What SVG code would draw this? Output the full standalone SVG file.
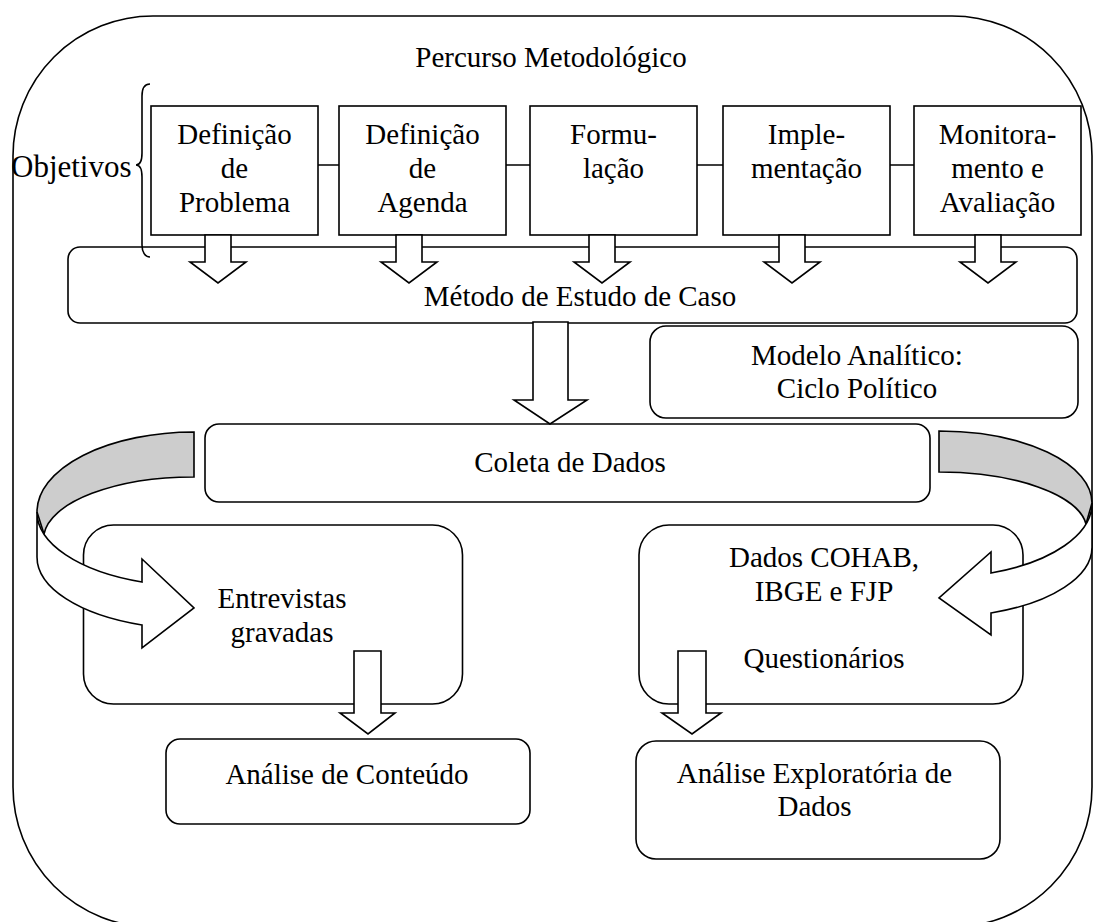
<svg xmlns="http://www.w3.org/2000/svg" width="1093" height="922" viewBox="0 0 1093 922">
<style>
.b{fill:#fff;stroke:#000;stroke-width:1.6}
.ln{fill:none;stroke:#000;stroke-width:1.6}
.g{fill:#cdcdcd;stroke:#000;stroke-width:1.6}
text{font-family:"Liberation Serif","Times New Roman",serif;font-size:29px;fill:#000;text-anchor:middle}
</style>
<rect width="1093" height="922" fill="#fff"/>
<g id="frame">
<rect class="ln" x="13" y="16" width="1079" height="911" rx="140" ry="140"/>
<text x="551" y="67">Percurso Metodológico</text>
</g>
<g id="connectors">
<path class="ln" d="M318,165 H339 M506,165 H530 M697,165 H723 M890,165 H914"/>
</g>
<g id="stage1"><rect class="b" x="151" y="106" width="167" height="129"/>
<text x="234.5" y="144">Definição</text><text x="234.5" y="178">de</text><text x="234.5" y="212">Problema</text></g>
<g id="stage2"><rect class="b" x="339" y="106" width="167" height="129"/>
<text x="422.5" y="144">Definição</text><text x="422.5" y="178">de</text><text x="422.5" y="212">Agenda</text></g>
<g id="stage3"><rect class="b" x="530" y="106" width="167" height="129"/>
<text x="613.5" y="144">Formu-</text><text x="613.5" y="178">lação</text></g>
<g id="stage4"><rect class="b" x="723" y="106" width="167" height="129"/>
<text x="806.5" y="144">Imple-</text><text x="806.5" y="178">mentação</text></g>
<g id="stage5"><rect class="b" x="914" y="106" width="167" height="129"/>
<text x="997.5" y="144">Monitora-</text><text x="997.5" y="178">mento e</text><text x="997.5" y="212">Avaliação</text></g>
<g id="metodo"><rect class="b" x="68" y="247" width="1009" height="76" rx="12"/>
<text x="580" y="306">Método de Estudo de Caso</text></g>
<g id="objetivos">
<path class="ln" d="M150,84 C145,84 142,88 142,96 L142,153 C142,160 140,165 136,165 C140,165 142,170 142,177 L142,245 C142,252 145,257 150,257"/>
<text x="11" y="177" style="text-anchor:start;font-size:31px">Objetivos</text>
</g>
<g id="stage-arrows">
<path class="b" d="M205,235 H231 V262 H246 L218,283 L190,262 H205 Z"/>
<path class="b" d="M396,235 H422 V262 H437 L409,283 L381,262 H396 Z"/>
<path class="b" d="M589,235 H615 V262 H630 L602,283 L574,262 H589 Z"/>
<path class="b" d="M779,235 H805 V262 H820 L792,283 L764,262 H779 Z"/>
<path class="b" d="M975,235 H1001 V262 H1016 L988,283 L960,262 H975 Z"/>
</g>
<g id="modelo"><rect class="b" x="650" y="326" width="428" height="92" rx="16"/>
<text x="857" y="365">Modelo Analítico:</text><text x="857" y="398">Ciclo Político</text></g>
<g id="coleta"><rect class="b" x="205" y="424" width="725" height="78" rx="14"/>
<text x="570" y="472">Coleta de Dados</text></g>
<g id="arrow-metodo-coleta">
<path class="b" d="M533,322 H568 V400 H587 L550,424 L514,400 H533 Z"/>
</g>
<g id="entrevistas"><rect class="b" x="83.5" y="525" width="379" height="179" rx="30"/>
<text x="282" y="608">Entrevistas</text><text x="282" y="642">gravadas</text></g>
<g id="dados"><rect class="b" x="639" y="525" width="384" height="179" rx="30"/>
<text x="824" y="567">Dados COHAB,</text><text x="824" y="601">IBGE e FJP</text><text x="824" y="668">Questionários</text></g>
<g id="curved-left">
<path class="g" d="M194,432 A157,80 0 0 0 37,512 L44,534 A150,62 0 0 1 194,477 Z"/>
<path class="b" d="M37,512 A157,74 0 0 0 142,582 L142,559 L194,608 L142,648 L142,625 A157,72 0 0 1 37,557 Z"/>
</g>
<g id="curved-right">
<path class="g" d="M939,431 A153,72 0 0 1 1092,503 L1086,524 A148,58 0 0 0 939,472 Z"/>
<path class="b" d="M1092,503 A153,74 0 0 1 991,573 L991,552 L939,598 L991,635 L991,613 A153,70 0 0 0 1092,547 Z"/>
</g>
<g id="down-arrows">
<path class="b" d="M354,651 H381 V713 H395 L368,734 L340,713 H354 Z"/>
<path class="b" d="M678,651 H706 V713 H721 L692,734 L662,713 H678 Z"/>
</g>
<g id="analise-conteudo"><rect class="b" x="166" y="739" width="364" height="85" rx="14"/>
<text x="347" y="784">Análise de Conteúdo</text></g>
<g id="analise-exploratoria"><rect class="b" x="636" y="741" width="364" height="118" rx="20"/>
<text x="814.5" y="783">Análise Exploratória de</text><text x="814.5" y="816">Dados</text></g>
</svg>
